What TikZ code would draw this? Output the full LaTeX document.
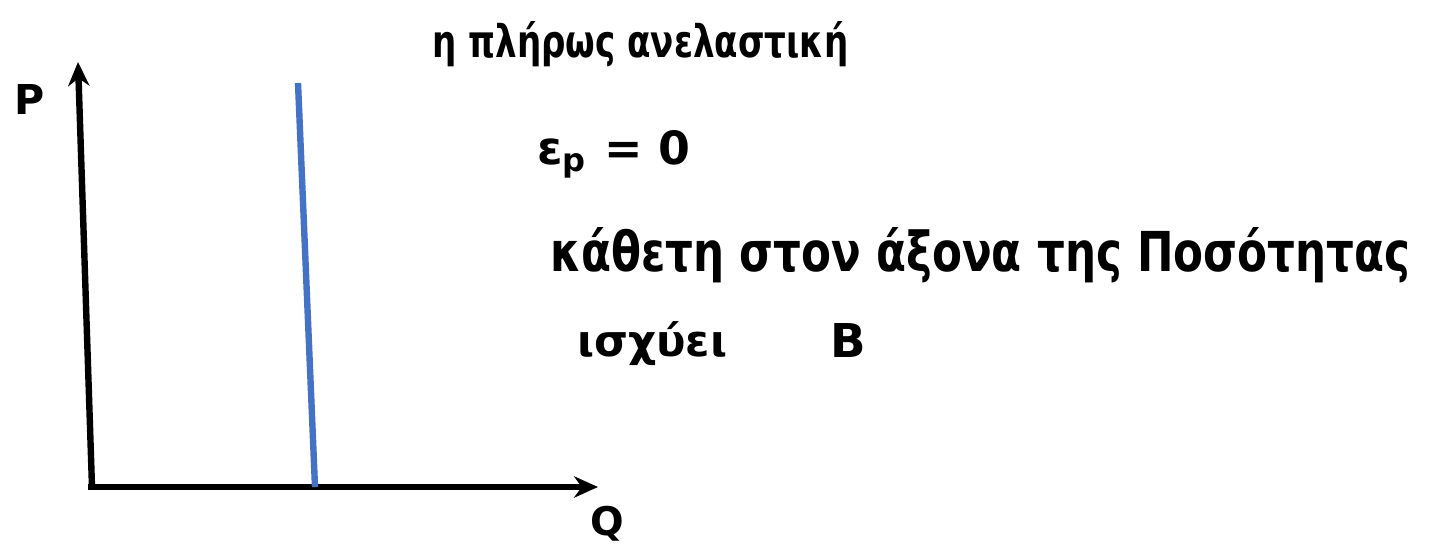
\documentclass[tikz,border=0pt]{standalone}
\usepackage{fontspec}
\setmainfont{DejaVu Sans}
\usepackage{graphicx}
\usetikzlibrary{arrows.meta}
\definecolor{curveblue}{HTML}{4472C4}
\begin{document}
\begin{tikzpicture}[x=0.75pt,y=-0.75pt,
  axis/.style={line width=4.8pt,-{Stealth[length=18pt,width=16pt]}},
  hand/.style={anchor=base west,inner sep=0pt,text=black,font=\bfseries}]
\useasboundingbox (0,0) rectangle (1431,545);
% axes
\coordinate (o) at (92,487);
\coordinate (ytop) at (78,62);
\coordinate (xend) at (598,487);
\coordinate (ostart) at (88,487);
\draw[axis] (o) -- (ytop);
\draw[axis] (ostart) -- (xend);
% vertical line
\coordinate (btop) at (298,83);
\coordinate (bbot) at (315,487);
\draw[curveblue,line width=4.8pt] (btop) -- (bbot);
% axis labels
\node[hand,anchor=center] (P) at (30,100) {\resizebox{!}{22.5pt}{P}};
\node[hand,anchor=center] (Q) at (607,524) {\resizebox{!}{22pt}{Q}};
% texts
\node[hand] (t1) at (432,58) {\resizebox{312pt}{27pt}{η πλήρως ανελαστική}};
\node[hand] (t2) at (537,165) {\resizebox{114.75pt}{!}{ε\textsubscript{p} = 0}};
\node[hand] (t3) at (550,272) {\resizebox{645pt}{33pt}{κάθετη στον άξονα της Ποσότητας}};
\node[hand] (t4) at (577,357) {\resizebox{112.5pt}{!}{ισχύει}};
\node[hand] (t5) at (830,357) {\resizebox{!}{25.5pt}{Β}};
\end{tikzpicture}
\end{document}
